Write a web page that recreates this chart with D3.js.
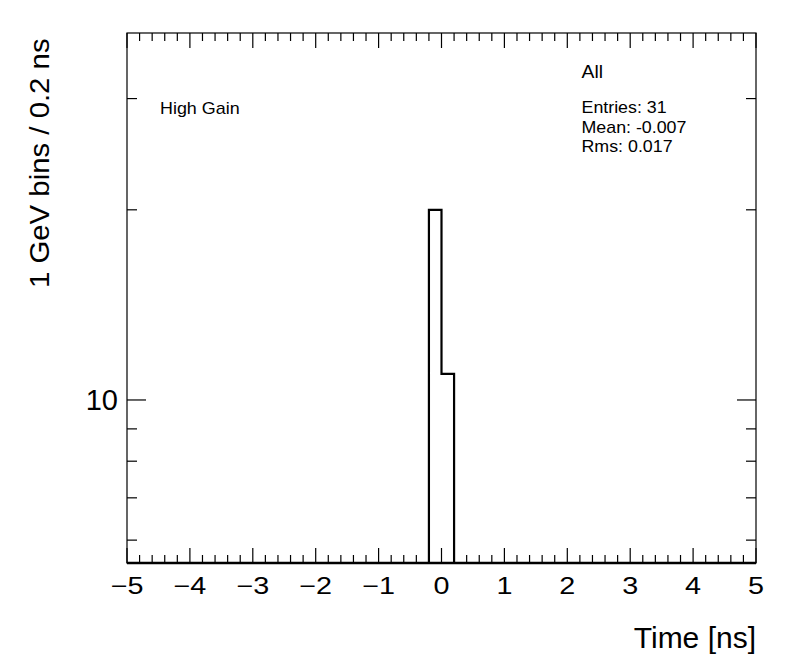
<!DOCTYPE html>
<html><head><meta charset="utf-8">
<script src="https://cdn.jsdelivr.net/npm/d3@7"></script>
<style>body{margin:0;background:#fff}svg{display:block}text{font-family:"Liberation Sans",Arial,sans-serif;fill:#000}</style>
</head><body>
<script>
// Data: histogram of time, bins of 0.2 ns from -5 to 5
const binEdges = [-0.2, 0.0, 0.2];
const binCounts = [20, 11];
const xTicks = [-5,-4,-3,-2,-1,0,1,2,3,4,5];
const yMajorTicks = [10];
const yMinorTicks = [6,7,8,9,20,30];
const statsLabel = "All";
const statsLines = ["Entries: 31", "Mean: -0.007", "Rms: 0.017"];
const gainLabel = "High Gain";

const W=796,H=672;
const L=127,R=756,T=33,B=563;
const svg=d3.select("body").append("svg").attr("width",W).attr("height",H);
const x=d3.scaleLinear().domain([-5,5]).range([L,R]);
const y=d3.scaleLog().domain([5.52,38.1]).range([B,T]);

function txt(px,py,s,size,sx,anchor){
  return svg.append("text").attr("transform",`translate(${px},${py}) scale(${sx},1)`)
    .attr("font-size",size).attr("text-anchor",anchor||"start").text(s);
}

// x ticks bottom & top
const minorX=d3.range(-25,26).map(i=>i/5);
const g=svg.append("g");
minorX.forEach(v=>{
  const isMaj=Math.abs(v-Math.round(v))<1e-9;
  const len=isMaj?15:8;
  g.append("line").attr("x1",x(v)).attr("x2",x(v)).attr("y1",B).attr("y2",B-len).attr("stroke","#000").attr("stroke-width",1.2);
  g.append("line").attr("x1",x(v)).attr("x2",x(v)).attr("y1",T).attr("y2",T+len).attr("stroke","#000").attr("stroke-width",1.2);
});
xTicks.forEach(v=>{
  txt(x(v),594,v<0?"\u2212"+Math.abs(v):String(v),23,1.25,"middle");
});
// y ticks
yMajorTicks.forEach(v=>{
  g.append("line").attr("x1",L).attr("x2",L+19).attr("y1",y(v)).attr("y2",y(v)).attr("stroke","#000").attr("stroke-width",1.2);
  g.append("line").attr("x1",R).attr("x2",R-19).attr("y1",y(v)).attr("y2",y(v)).attr("stroke","#000").attr("stroke-width",1.2);
  txt(118,y(v)+10,String(v),29,1,"end");
});
yMinorTicks.forEach(v=>{
  g.append("line").attr("x1",L).attr("x2",L+10).attr("y1",y(v)).attr("y2",y(v)).attr("stroke","#000").attr("stroke-width",1.2);
  g.append("line").attr("x1",R).attr("x2",R-10).attr("y1",y(v)).attr("y2",y(v)).attr("stroke","#000").attr("stroke-width",1.2);
});

// histogram outline
let pts=[[x(-5),B],[x(binEdges[0]),B]];
binCounts.forEach((c,i)=>{
  pts.push([x(binEdges[i]),y(c)]);
  pts.push([x(binEdges[i+1]),y(c)]);
});
pts.push([x(binEdges[binEdges.length-1]),B]);
pts.push([x(5),B]);
svg.append("path").attr("d",d3.line()(pts)).attr("fill","none").attr("stroke","#000").attr("stroke-width",2.2);

// frame
svg.append("rect").attr("x",L).attr("y",T).attr("width",R-L).attr("height",B-T).attr("fill","none").attr("stroke","#000").attr("stroke-width",1.2);
svg.append("line").attr("x1",L).attr("x2",R).attr("y1",B).attr("y2",B).attr("stroke","#000").attr("stroke-width",2.4);

// titles
txt(756,648,"Time [ns]",30,1,"end");
svg.append("text").attr("transform",`translate(48.5,288) rotate(-90) scale(1.03,1)`).attr("text-anchor","start").attr("font-size",28.5).text("1 GeV bins / 0.2 ns");

txt(160,114,gainLabel,16,1.12,"start");
txt(581.5,78,statsLabel,18.6,1.04,"start");
statsLines.forEach((s,i)=>{
  txt(581.5,113.3+i*19.3,s,16.2,1.1,"start");
});
</script>
</body></html>
